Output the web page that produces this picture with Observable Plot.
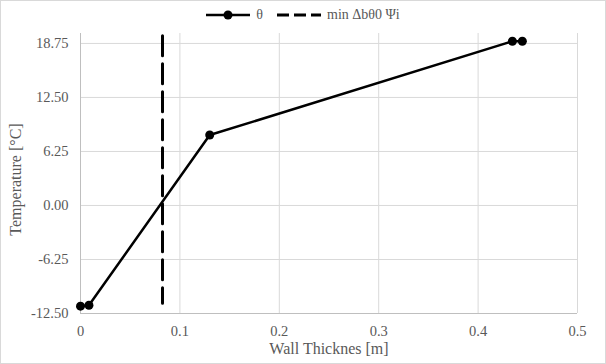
<!DOCTYPE html>
<html><head><meta charset="utf-8">
<script src="https://cdn.jsdelivr.net/npm/d3@7"></script>
<script src="https://cdn.jsdelivr.net/npm/@observablehq/plot@0.6"></script>
<style>
body{margin:0;background:#fff;font-family:"Liberation Serif","Times New Roman",serif;}
#wrap{width:604px;height:362px;border:1px solid #d9d9d9;position:relative;overflow:hidden;}
#legend{height:28px;display:flex;justify-content:center;align-items:center;gap:14px;font-size:14px;color:#595959;box-sizing:border-box;}
.item{display:flex;align-items:center;gap:6px;}
#chart svg text{font-family:"Liberation Serif","Times New Roman",serif !important;}
</style></head><body>
<div id="wrap"><div id="legend">
<div class="item"><svg width="44" height="12"><line x1="0" y1="6" x2="44" y2="6" stroke="#000" stroke-width="2.5"/><circle cx="22" cy="6" r="4.5" fill="#000"/></svg><span>θ</span></div>
<div class="item"><svg width="44" height="12"><line x1="0" y1="6" x2="44" y2="6" stroke="#000" stroke-width="3" stroke-dasharray="12,5"/></svg><span>min Δbθ0 Ψi</span></div>
</div><div id="chart"></div></div>
<script>
const thickness = [0, 0.0085, 0.130, 0.4345, 0.4445];
const temperature = [-11.65, -11.55, 8.15, 19.0, 19.0];
const minX = [0.0825, 0.0825];
const minY = [19.65, -11.3];
const yTicks = [-12.5, -6.25, 0, 6.25, 12.5, 18.75];
const xTicks = [0, 0.1, 0.2, 0.3, 0.4, 0.5];
const xTitle = "Wall Thicknes [m]";
const yTitle = "Temperature [°C]";

const pts = thickness.map((x, i) => ({x, y: temperature[i]}));
const dash = minX.map((x, i) => ({x, y: minY[i]}));

const chart = Plot.plot({
  width: 604, height: 334,
  marginLeft: 79, marginRight: 28, marginTop: 4, marginBottom: 50,
  style: {fontFamily: '"Liberation Serif","Times New Roman",serif', fontSize: "14.5px", color: "#595959", background: "#fff"},
  x: {domain: [0, 0.5]},
  y: {domain: [-12.5, 19.9]},
  marks: [
    Plot.gridX(xTicks, {stroke: "#d9d9d9", strokeOpacity: 1, strokeWidth: 1}),
    Plot.gridY(yTicks, {stroke: "#d9d9d9", strokeOpacity: 1, strokeWidth: 1}),
    Plot.ruleX([0], {stroke: "#bfbfbf"}),
    Plot.ruleY([-12.5], {stroke: "#bfbfbf"}),
    Plot.axisX({ticks: xTicks, tickFormat: d => d === 0 ? "0" : String(d), tickSize: 0, tickPadding: 12, fontSize: 14.5, label: null}),
    Plot.axisY({ticks: yTicks, tickFormat: d => d.toFixed(2), tickSize: 0, tickPadding: 12, fontSize: 14.5, label: null}),
    Plot.text([xTitle], {frameAnchor: "bottom", textAnchor: "middle", dy: 40, fontSize: 16, fill: "#595959"}),
    Plot.text([yTitle], {frameAnchor: "left", textAnchor: "middle", dx: -65, dy: 6, rotate: -90, fontSize: 16, fill: "#595959"}),
    Plot.line(dash, {x: "x", y: "y", stroke: "#000", strokeWidth: 3, strokeDasharray: "20,8"}),
    Plot.line(pts, {x: "x", y: "y", stroke: "#000", strokeWidth: 2.5}),
    Plot.dot(pts, {x: "x", y: "y", r: 4.5, fill: "#000"})
  ]
});
document.getElementById("chart").appendChild(chart);
</script></body></html>
